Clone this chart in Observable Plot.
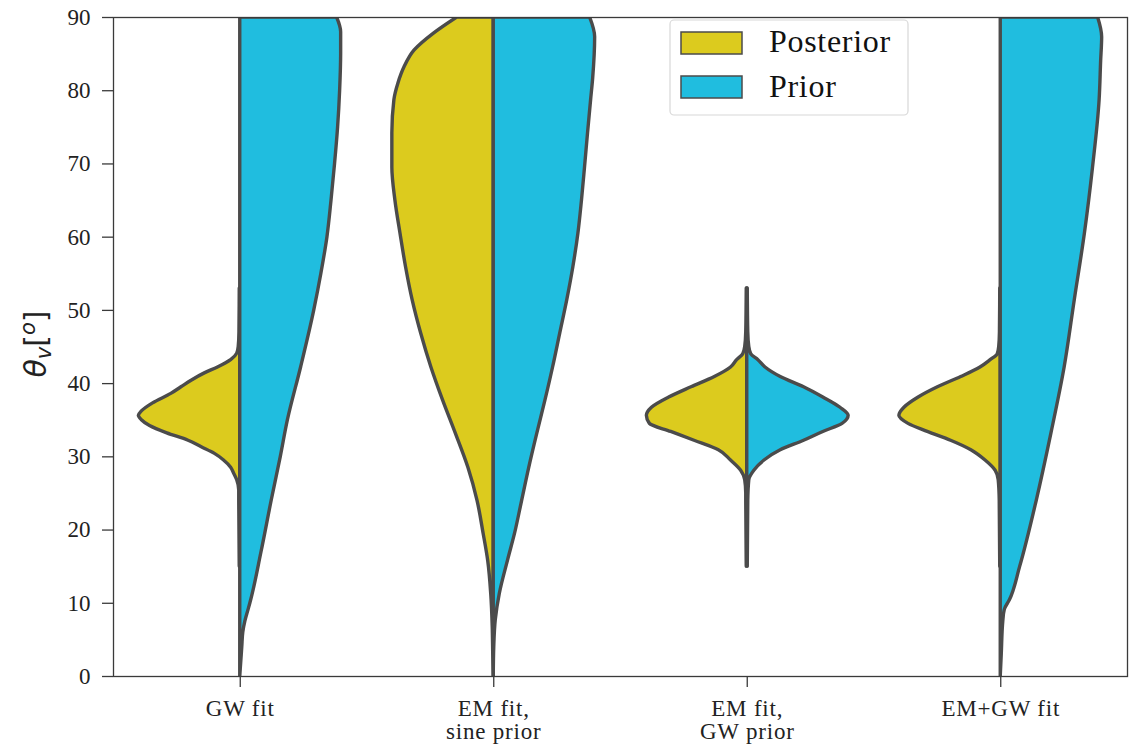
<!DOCTYPE html>
<html><head><meta charset="utf-8">
<script src="https://cdn.jsdelivr.net/npm/d3@7"></script>
<script src="https://cdn.jsdelivr.net/npm/@observablehq/plot@0.6"></script>
<style>
body{margin:0;background:#fff}
#chart{width:1140px;height:744px}
g[aria-label="x-axis tick label"] text{letter-spacing:0.8px}
.lgtext{font-family:"Liberation Serif",serif !important;font-size:32px;letter-spacing:0.7px}
</style>
</head><body><div id="chart"></div>
<script>
// Categories (x) and series
const categories = ["GW fit", "EM fit,\nsine prior", "EM fit,\nGW prior", "EM+GW fit"];
const series = ["Posterior", "Prior"];
const yTicks = [0, 10, 20, 30, 40, 50, 60, 70, 80, 90];

// Violin half profiles: [theta (deg), relative density (peak = 1)]
const gwFitPosterior = [[15,0.005],[24,0.01],[25.4,0.01],[26.8,0.03],[27.7,0.06],[28.5,0.09],[29.5,0.16],[30.4,0.25],[31.3,0.38],[32.2,0.51],[33.2,0.72],[34.2,0.89],[35,0.97],[35.6,1.0],[36.2,0.97],[37.3,0.86],[38.6,0.68],[39.5,0.58],[40.4,0.48],[41.4,0.35],[42.2,0.22],[43.2,0.09],[44.1,0.03],[45,0.015],[47,0.008],[53,0.005]];
const gwFitPrior = [[0,0],[2,0.01],[4,0.02],[6,0.03],[7.5,0.05],[9,0.08],[10,0.1],[17,0.21],[24,0.31],[30,0.4],[35,0.47],[42.2,0.6],[50,0.73],[55,0.8],[60,0.86],[65,0.9],[70,0.935],[75,0.965],[80,0.985],[85,0.995],[88,0.995],[90,0.955]];
const emSinePosterior = [[0,0],[3,0.005],[6.7,0.01],[11.3,0.025],[15.8,0.055],[19.5,0.1],[24,0.16],[28.5,0.25],[33.2,0.375],[37.7,0.5],[42.2,0.615],[46.8,0.715],[51.4,0.8],[55.9,0.865],[60.5,0.92],[65,0.97],[69.5,1.0],[74.2,1.0],[78.7,0.98],[81,0.94],[83.2,0.88],[85.5,0.78],[87.8,0.59],[90,0.36]];
const emSinePrior = [[0,0],[4,0.005],[7.7,0.02],[11.3,0.06],[15.8,0.14],[19.5,0.21],[24,0.28],[28.5,0.35],[33.2,0.43],[37.7,0.51],[42.2,0.585],[46.8,0.655],[51.4,0.725],[55.9,0.785],[60.5,0.835],[65,0.87],[69.5,0.9],[74.2,0.93],[78.7,0.96],[81.6,0.98],[87.3,1.0],[90,0.95]];
const emGwPriorPosterior = [[15,0.005],[24,0.01],[25,0.01],[26.8,0.02],[28.1,0.06],[29.5,0.16],[30.9,0.28],[32.2,0.52],[33.4,0.75],[34.5,0.96],[35.6,0.99],[36.7,0.94],[38.1,0.77],[39.5,0.55],[40.9,0.32],[42.2,0.16],[43.2,0.1],[44,0.04],[45,0.02],[47,0.01],[53,0.005]];
const emGwPriorPrior = [[15,0.005],[24,0.01],[26.8,0.02],[28.1,0.07],[29.5,0.17],[30.9,0.33],[32.2,0.56],[33.4,0.75],[34.5,0.94],[35.6,1.0],[36.7,0.92],[38.1,0.75],[39.5,0.56],[40.9,0.33],[42.2,0.18],[43.2,0.11],[44,0.04],[45,0.02],[47,0.01],[53,0.005]];
const emPlusGwPosterior = [[15,0.005],[24,0.01],[26.8,0.02],[28.1,0.05],[29.5,0.15],[30.9,0.29],[32.2,0.49],[33.4,0.72],[34.5,0.91],[35.6,1.0],[36.7,0.95],[38.1,0.81],[39.5,0.62],[40.9,0.39],[42.2,0.2],[43.2,0.1],[44,0.03],[45,0.015],[47,0.008],[53,0.005]];
const emPlusGwPrior = [[0,0],[3,0.01],[7.5,0.025],[9.1,0.04],[10.4,0.09],[14.9,0.19],[24,0.355],[33.2,0.5],[42.2,0.63],[51.4,0.73],[60.5,0.83],[69.5,0.91],[78.7,0.975],[84,0.99],[87.3,1.0],[90,0.96]];

const violins = [
  {cat: 0, side: "Posterior", pts: gwFitPosterior},
  {cat: 0, side: "Prior", pts: gwFitPrior},
  {cat: 1, side: "Posterior", pts: emSinePosterior},
  {cat: 1, side: "Prior", pts: emSinePrior},
  {cat: 2, side: "Posterior", pts: emGwPriorPosterior},
  {cat: 2, side: "Prior", pts: emGwPriorPrior},
  {cat: 3, side: "Posterior", pts: emPlusGwPosterior},
  {cat: 3, side: "Prior", pts: emPlusGwPrior}
];
const rows = violins.flatMap(v => v.pts.map(([theta, d]) => ({key: v.cat + v.side, cat: v.cat, side: v.side, theta, d})));
const half = 0.4;
const colors = ["#dccb1e", "#20bddf"];
const edge = "#4b4b4b";

const plot = Plot.plot({
  width: 1140, height: 744,
  marginLeft: 113, marginRight: 13, marginTop: 17, marginBottom: 68,
  x: {domain: [-0.5, 3.5]},
  y: {domain: [0, 90]},
  color: {domain: series, range: colors},
  style: {fontFamily: "'Liberation Serif', serif", fontSize: "23px", color: "#222", background: "white"},
  marks: [
    Plot.areaX(rows, {
      y: "theta",
      x1: r => r.side === "Posterior" ? r.cat - half * r.d : r.cat,
      x2: r => r.side === "Posterior" ? r.cat : r.cat + half * r.d,
      z: "key", fill: "side", stroke: edge, strokeWidth: 3.4, strokeLinejoin: "round",
      curve: "monotone-y", clip: "frame"
    }),
    Plot.frame({stroke: "#3a3a3a", strokeWidth: 1.3}),
    Plot.axisX({ticks: [0, 1, 2, 3], tickFormat: i => categories[i], tickSize: 11, tickPadding: 12, lineHeight: 1.0, label: null, stroke: "#3a3a3a", strokeWidth: 1.3}),
    Plot.axisY({ticks: yTicks, tickSize: 11, tickPadding: 12, label: null, stroke: "#3a3a3a", strokeWidth: 1.3})
  ]
});
document.getElementById("chart").appendChild(plot);

const svg = d3.select(plot);
// y-axis label θ_v [°]
const yl = svg.append("text")
  .attr("transform", "translate(46,344) rotate(-90)")
  .attr("text-anchor", "middle")
  .attr("fill", "#222")
  .attr("font-family", "DejaVu Sans")
  .style("font-family", "'DejaVu Sans', sans-serif")
  .style("font-size", "30px");
yl.append("tspan").attr("font-style", "italic").text("θ");
yl.append("tspan").attr("font-style", "italic").attr("font-size", "21px").attr("dy", 5).text("v");
yl.append("tspan").attr("dy", -5).text("[");
yl.append("tspan").attr("font-style", "italic").attr("font-size", "21px").attr("dy", -11).text("o");
yl.append("tspan").attr("dy", 11).text("]");

// legend
const lg = svg.append("g").attr("text-anchor", "start").attr("font-family", "Liberation Serif");
lg.append("rect").attr("x", 670).attr("y", 20).attr("width", 238).attr("height", 95).attr("rx", 4)
  .attr("fill", "white").attr("fill-opacity", 0.85).attr("stroke", "#d8d8d8").attr("stroke-width", 1.2);
series.forEach((s, i) => {
  lg.append("rect").attr("x", 681).attr("y", 32 + i * 44).attr("width", 61).attr("height", 22)
    .attr("fill", colors[i]).attr("stroke", edge).attr("stroke-width", 1.5);
  lg.append("text").attr("class", "lgtext").attr("x", 769).attr("y", 52 + i * 45).text(s)
    .attr("text-anchor", "start")
    .attr("font-family", "Liberation Serif")
    .attr("font-size", 32)
    .attr("fill", "#111");
});
</script>
</body></html>
